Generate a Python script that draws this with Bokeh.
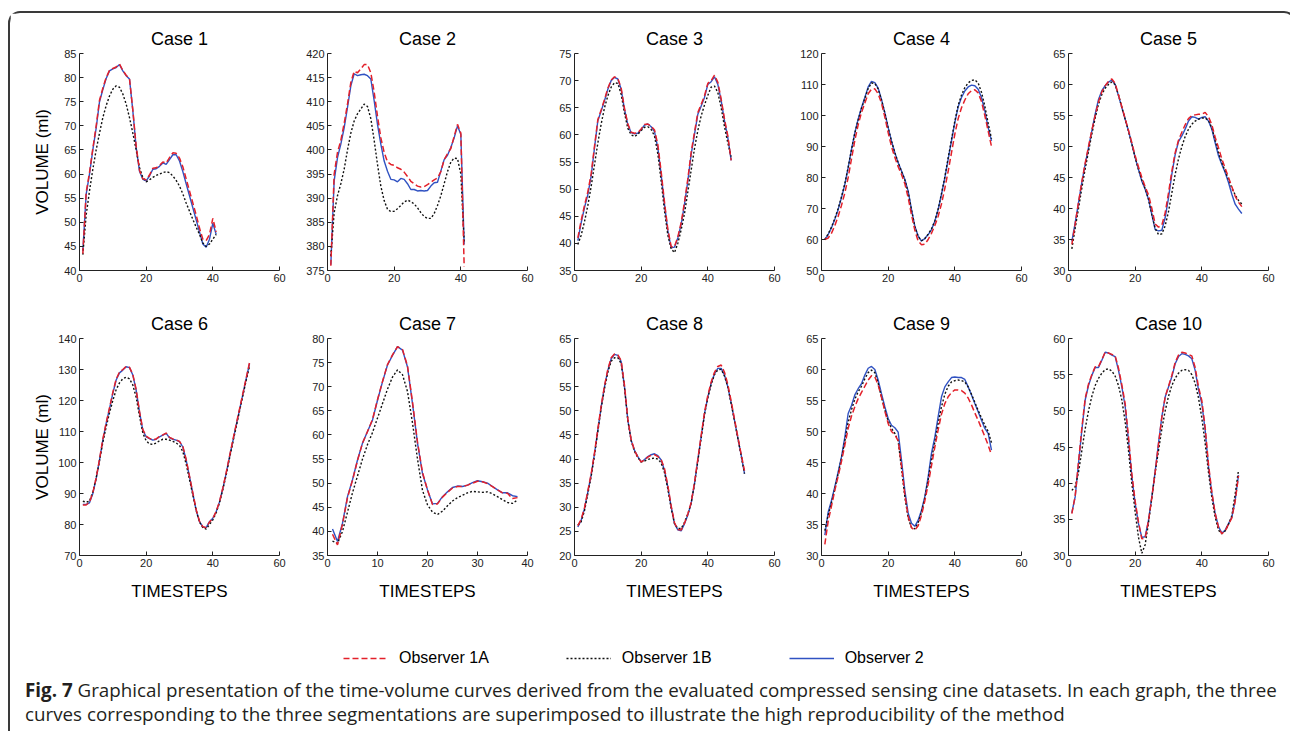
from bokeh.plotting import figure
from bokeh.layouts import row, column
from bokeh.models import Range1d, FixedTicker, Legend, LegendItem, Div
from bokeh.embed import file_html
from bokeh.resources import INLINE

# ---------------- data ----------------
case_titles = ["Case 1", "Case 2", "Case 3", "Case 4", "Case 5",
               "Case 6", "Case 7", "Case 8", "Case 9", "Case 10"]
series_names = ["Observer 1A", "Observer 1B", "Observer 2"]

y_limits = [(40, 85), (375, 420), (35, 75), (50, 120), (30, 65),
            (70, 140), (35, 80), (20, 65), (30, 65), (30, 60)]
y_steps = [5, 5, 5, 10, 5, 10, 5, 5, 5, 5]
x_limits = [60, 60, 60, 60, 60, 60, 40, 60, 60, 60]
x_steps = [20, 20, 20, 20, 20, 20, 10, 20, 20, 20]

case1_obs1a = [43.5, 56.2, 60.3, 65.3, 70.0, 75.3, 77.8, 80.0, 81.5, 81.9, 82.2, 82.8, 81.5, 80.5, 79.8, 73.3, 65.8, 60.8, 59.0, 58.8, 59.8, 61.2, 61.3, 61.8, 62.5, 62.3, 63.4, 64.4, 64.3, 63.3, 61.5, 59.0, 56.5, 54.0, 51.5, 48.8, 46.5, 46.2, 47.5, 50.8, 48.0]
case1_obs1b = [43.3, 51.5, 56.5, 61.0, 65.0, 68.5, 71.7, 74.2, 76.2, 77.6, 78.3, 78.0, 76.6, 74.5, 71.7, 68.5, 65.0, 61.3, 59.3, 58.4, 58.8, 59.3, 59.7, 60.0, 60.3, 60.5, 60.3, 59.6, 58.7, 57.5, 55.9, 54.0, 52.3, 50.6, 49.0, 47.5, 45.7, 45.0, 45.5, 46.5, 47.5]
case1_obs2 = [44.0, 55.8, 60.0, 65.0, 69.5, 75.0, 77.5, 79.8, 81.4, 81.8, 82.1, 82.7, 81.4, 80.4, 79.7, 73.1, 65.5, 60.6, 58.9, 58.6, 59.6, 61.0, 61.1, 61.6, 62.3, 62.0, 63.0, 64.0, 64.0, 62.7, 60.5, 58.0, 55.5, 53.0, 50.5, 48.0, 45.5, 44.8, 46.5, 49.8, 47.5]

case2_obs1a = [376.0, 395.0, 399.5, 402.0, 405.5, 409.5, 414.0, 416.3, 416.0, 416.8, 417.7, 417.7, 416.0, 412.0, 407.0, 402.5, 399.5, 397.5, 397.0, 396.8, 396.3, 396.0, 395.4, 394.5, 393.5, 393.0, 392.5, 392.3, 392.4, 392.8, 393.3, 393.8, 394.2, 395.5, 398.0, 399.2, 400.3, 402.8, 405.3, 403.5, 375.8]
case2_obs1b = [378.0, 387.0, 390.5, 393.0, 396.0, 400.0, 403.5, 406.0, 407.5, 408.5, 409.5, 409.0, 406.5, 402.0, 397.0, 392.5, 389.5, 387.7, 387.2, 387.3, 387.8, 388.5, 389.2, 389.6, 389.3, 388.8, 388.0, 387.0, 386.2, 385.8, 385.8, 386.8, 388.5, 390.5, 393.0, 395.5, 397.5, 398.3, 398.2, 395.0, 381.0]
case2_obs2 = [376.2, 393.6, 398.4, 401.2, 404.6, 408.8, 413.3, 415.8, 415.4, 415.6, 415.7, 415.4, 414.7, 410.2, 405.3, 401.2, 397.7, 395.6, 393.9, 393.8, 393.4, 394.1, 393.9, 393.0, 391.8, 391.8, 391.5, 391.6, 391.5, 391.6, 392.5, 393.2, 393.3, 395.6, 398.0, 398.9, 400.5, 402.5, 405.0, 403.2, 380.4]

case3_obs1a = [41.0, 44.2, 47.0, 49.5, 52.8, 57.9, 62.8, 64.6, 66.5, 68.6, 70.1, 70.7, 70.4, 68.6, 64.9, 62.0, 60.5, 60.3, 60.4, 61.1, 61.9, 62.0, 61.6, 60.9, 58.2, 53.2, 47.6, 42.6, 39.4, 39.4, 41.2, 43.8, 47.6, 51.9, 56.8, 60.5, 64.1, 65.6, 67.2, 69.5, 70.0, 71.0, 69.7, 66.6, 62.9, 59.8, 55.3]
case3_obs1b = [39.8, 41.5, 44.0, 47.0, 50.5, 54.5, 58.5, 62.0, 65.0, 67.2, 68.8, 69.6, 69.5, 67.5, 64.0, 61.2, 60.0, 59.7, 60.1, 60.8, 61.4, 61.5, 61.0, 59.8, 56.5, 51.5, 46.0, 41.5, 39.0, 38.3, 40.0, 42.5, 45.5, 49.5, 53.5, 57.5, 60.8, 63.5, 65.5, 67.3, 68.8, 69.0, 67.8, 65.0, 61.5, 58.5, 56.0]
case3_obs2 = [40.5, 43.8, 46.6, 49.0, 52.4, 57.6, 62.6, 64.4, 66.3, 68.4, 70.0, 70.6, 70.3, 68.4, 64.7, 61.9, 60.4, 60.2, 60.3, 61.0, 61.8, 62.0, 61.5, 60.6, 57.6, 52.7, 47.2, 42.3, 39.2, 39.3, 41.0, 43.5, 47.2, 51.5, 56.4, 60.1, 63.8, 65.3, 66.9, 69.3, 69.8, 70.7, 69.3, 66.3, 62.6, 59.5, 55.3]

case4_obs1a = [60.0, 60.5, 62.0, 64.5, 67.5, 71.0, 75.0, 80.0, 86.0, 92.0, 97.0, 101.0, 104.0, 107.0, 108.5, 108.6, 107.0, 104.0, 99.5, 94.5, 90.0, 86.5, 83.5, 81.0, 78.0, 73.5, 68.0, 63.0, 59.5, 58.3, 58.5, 60.0, 62.0, 64.5, 67.5, 71.5, 76.5, 82.0, 88.0, 94.0, 99.0, 102.5, 105.0, 107.0, 108.0, 108.3, 107.3, 104.5, 100.0, 95.0, 90.0]
case4_obs1b = [60.0, 61.8, 64.0, 66.8, 70.0, 73.8, 78.0, 83.3, 89.0, 94.3, 98.6, 102.3, 105.5, 108.7, 110.5, 110.3, 108.6, 105.0, 100.8, 96.0, 91.7, 88.0, 84.8, 82.0, 79.2, 75.3, 69.5, 64.2, 61.0, 59.6, 60.3, 61.7, 63.4, 66.0, 69.8, 74.8, 80.2, 86.3, 92.3, 98.2, 103.3, 106.6, 109.0, 110.5, 111.3, 111.5, 110.5, 107.5, 103.0, 97.5, 92.5]
case4_obs2 = [60.0, 61.6, 63.8, 66.5, 69.7, 73.5, 77.8, 83.2, 89.1, 94.5, 98.8, 102.6, 105.8, 109.2, 111.0, 110.6, 108.8, 105.2, 100.9, 96.1, 91.8, 88.0, 84.8, 82.1, 79.4, 75.6, 69.7, 64.3, 61.1, 59.5, 60.3, 61.6, 63.2, 65.9, 69.7, 74.6, 79.9, 85.9, 91.8, 97.7, 102.8, 105.8, 107.9, 109.2, 109.8, 109.6, 108.5, 105.8, 101.5, 96.1, 91.8]

case5_obs1a = [34.2, 37.5, 41.0, 44.3, 47.3, 50.0, 52.6, 55.0, 57.2, 58.8, 59.8, 60.5, 60.9, 60.2, 58.3, 56.4, 54.5, 52.6, 50.6, 48.5, 46.7, 45.0, 43.5, 42.2, 40.0, 37.5, 37.0, 37.3, 39.3, 42.5, 46.0, 49.0, 51.0, 52.3, 53.5, 54.5, 55.0, 55.1, 55.2, 55.2, 55.5, 54.8, 53.5, 51.5, 49.8, 48.0, 46.5, 45.0, 43.5, 42.0, 41.0, 40.3]
case5_obs1b = [33.5, 36.8, 40.0, 43.3, 46.4, 49.2, 52.0, 54.6, 56.8, 58.4, 59.4, 60.0, 60.4, 60.0, 58.3, 56.3, 54.4, 52.5, 50.4, 48.2, 46.3, 44.6, 43.2, 41.5, 39.0, 36.8, 35.8, 35.9, 37.2, 39.5, 42.5, 45.5, 48.0, 50.0, 51.6, 52.8, 53.6, 54.1, 54.4, 54.6, 54.6, 54.2, 53.0, 51.0, 49.0, 47.4, 46.0, 44.7, 43.3, 42.2, 41.3, 40.7]
case5_obs2 = [34.7, 37.7, 40.9, 44.2, 47.1, 49.8, 52.5, 55.2, 57.6, 59.0, 59.8, 60.4, 60.7, 60.0, 58.2, 56.3, 54.4, 52.5, 50.4, 48.2, 46.3, 44.4, 43.1, 41.5, 39.0, 36.6, 36.4, 36.5, 38.5, 41.7, 45.5, 48.7, 50.8, 51.7, 52.8, 54.1, 54.8, 54.7, 54.4, 54.7, 54.8, 54.1, 52.8, 50.6, 48.5, 47.1, 45.8, 44.2, 42.3, 40.7, 39.9, 39.2]

case6_obs1a = [86.3, 86.3, 87.2, 90.3, 95.0, 101.0, 107.5, 112.8, 117.6, 122.6, 126.9, 129.2, 130.0, 131.0, 130.7, 128.4, 123.5, 116.5, 110.6, 108.5, 107.8, 107.3, 107.6, 108.4, 108.9, 109.5, 108.1, 107.6, 107.3, 106.8, 105.2, 101.0, 95.6, 90.2, 84.8, 81.0, 79.3, 79.0, 80.8, 82.0, 84.2, 87.4, 91.8, 96.7, 102.0, 107.2, 112.3, 117.2, 122.2, 127.2, 132.2]
case6_obs1b = [87.5, 87.2, 87.5, 90.5, 95.0, 100.5, 106.5, 111.5, 116.0, 120.0, 123.5, 125.7, 127.0, 127.5, 127.0, 125.0, 121.0, 115.0, 109.5, 107.0, 106.0, 105.8, 106.3, 107.0, 107.5, 107.5, 107.2, 106.8, 106.3, 105.5, 103.5, 99.5, 94.5, 89.5, 84.5, 80.8, 79.0, 78.5, 80.0, 81.5, 83.8, 87.0, 91.3, 96.0, 101.3, 106.5, 111.5, 116.5, 121.5, 126.5, 131.0]
case6_obs2 = [86.5, 86.5, 87.0, 90.0, 94.8, 100.8, 107.2, 112.6, 117.4, 122.3, 126.6, 128.9, 129.8, 130.9, 130.6, 128.2, 123.3, 116.3, 110.4, 108.3, 107.7, 107.2, 107.5, 108.3, 108.8, 109.4, 108.0, 107.5, 107.2, 106.7, 105.0, 100.8, 95.4, 90.0, 84.6, 80.9, 79.2, 79.0, 80.9, 82.0, 84.1, 87.3, 91.6, 96.5, 101.8, 106.8, 112.0, 117.0, 122.0, 127.0, 131.9]

case7_obs1a = [39.4, 37.2, 41.5, 47.0, 50.6, 54.7, 58.3, 60.7, 63.2, 67.3, 71.1, 74.6, 76.6, 78.3, 77.7, 74.3, 66.8, 58.5, 52.2, 48.6, 45.6, 45.7, 47.1, 48.1, 49.0, 49.3, 49.3, 49.6, 50.0, 50.4, 50.3, 49.9, 49.3, 48.6, 48.0, 47.9, 46.8, 47.0]
case7_obs1b = [38.0, 37.5, 40.0, 44.0, 48.0, 51.5, 55.0, 58.0, 60.5, 63.5, 66.5, 69.5, 72.0, 73.5, 72.5, 69.0, 62.5, 55.0, 48.5, 45.5, 44.0, 43.5, 44.2, 45.3, 46.3, 47.0, 47.5, 48.0, 48.3, 48.2, 48.1, 48.2, 47.8, 47.2, 46.6, 46.0, 45.8, 46.5]
case7_obs2 = [40.5, 37.9, 41.7, 47.2, 50.7, 54.8, 58.3, 60.7, 63.1, 67.2, 71.0, 74.5, 76.5, 78.3, 77.6, 74.1, 66.5, 58.3, 52.0, 48.6, 45.7, 45.8, 47.2, 48.2, 49.1, 49.4, 49.3, 49.6, 50.1, 50.5, 50.3, 50.0, 49.3, 48.6, 48.0, 48.0, 47.4, 47.2]

case8_obs1a = [26.2, 27.5, 29.9, 33.4, 36.9, 41.3, 46.2, 51.0, 55.2, 58.6, 61.0, 61.8, 61.6, 60.4, 55.3, 48.3, 44.0, 41.8, 40.4, 39.4, 39.8, 40.4, 40.8, 40.9, 40.5, 39.9, 38.0, 34.5, 30.3, 26.8, 25.4, 25.3, 26.7, 28.6, 31.0, 35.1, 40.0, 44.9, 49.7, 53.2, 56.0, 58.0, 59.2, 59.5, 58.0, 55.5, 52.0, 48.3, 44.6, 41.0, 37.6]
case8_obs1b = [26.3, 27.0, 29.3, 32.8, 36.4, 40.8, 45.7, 50.5, 54.6, 58.0, 60.3, 61.0, 61.0, 59.8, 54.8, 48.0, 43.8, 41.6, 40.3, 39.4, 39.6, 39.9, 40.1, 40.2, 40.0, 39.2, 37.2, 33.8, 29.8, 26.6, 25.6, 25.6, 26.9, 28.6, 30.9, 34.8, 39.6, 44.4, 49.2, 52.7, 55.5, 57.5, 58.5, 58.6, 57.2, 54.9, 51.5, 47.9, 44.3, 40.7, 37.0]
case8_obs2 = [25.9, 27.3, 29.7, 33.2, 36.7, 41.1, 46.0, 50.8, 55.0, 58.4, 60.8, 61.7, 61.5, 60.2, 55.0, 48.1, 43.9, 41.8, 40.5, 39.4, 39.9, 40.5, 40.9, 41.1, 40.7, 39.8, 37.7, 34.2, 30.1, 26.6, 25.3, 25.1, 26.6, 28.4, 30.8, 34.9, 39.8, 44.6, 49.4, 52.9, 55.7, 57.7, 58.8, 58.8, 57.4, 55.0, 51.6, 48.0, 44.4, 40.8, 37.0]

case9_obs1a = [31.8, 35.5, 38.0, 40.5, 42.8, 45.2, 47.8, 50.5, 52.5, 54.0, 55.3, 56.3, 57.3, 58.3, 59.0, 58.8, 57.5, 55.5, 53.3, 51.3, 50.0, 49.5, 48.5, 44.5, 39.8, 36.3, 34.5, 34.1, 34.8, 36.5, 38.8, 41.5, 44.5, 47.5, 50.3, 52.8, 54.5, 55.6, 56.3, 56.7, 56.7, 56.6, 56.2, 55.4, 54.3, 53.0, 51.8, 50.5, 49.2, 47.8, 46.2]
case9_obs1b = [34.0, 36.5, 38.5, 40.8, 43.2, 45.7, 48.5, 51.5, 53.5, 55.2, 56.4, 57.3, 58.5, 59.5, 59.9, 59.5, 57.8, 55.5, 53.5, 51.7, 50.5, 49.7, 48.5, 44.0, 39.5, 36.0, 34.5, 34.3, 35.3, 37.0, 39.3, 42.2, 45.5, 48.3, 51.3, 54.0, 56.0, 57.3, 58.0, 58.2, 58.3, 58.2, 58.0, 57.2, 56.0, 54.7, 53.4, 52.2, 51.0, 50.0, 48.2]
case9_obs2 = [33.3, 37.0, 38.9, 41.1, 43.5, 45.9, 49.1, 52.9, 54.2, 55.9, 56.9, 57.7, 59.1, 60.2, 60.5, 60.0, 58.3, 56.1, 54.0, 52.1, 51.0, 50.6, 49.9, 45.4, 40.5, 36.8, 35.2, 34.7, 35.7, 37.3, 39.5, 42.7, 46.5, 49.1, 52.4, 55.6, 57.2, 58.0, 58.7, 58.8, 58.7, 58.7, 58.4, 57.2, 55.9, 54.5, 53.2, 51.8, 50.5, 49.7, 47.0]

case10_obs1a = [35.8, 38.2, 42.9, 47.6, 51.7, 53.7, 55.0, 56.1, 56.1, 57.1, 58.1, 58.0, 57.8, 57.6, 55.9, 53.6, 51.0, 46.4, 41.3, 37.5, 34.6, 32.3, 32.4, 34.8, 38.0, 41.5, 45.4, 49.1, 51.9, 53.4, 54.9, 56.7, 57.7, 58.1, 58.0, 57.8, 57.6, 56.0, 53.3, 51.4, 47.7, 42.6, 38.8, 35.8, 33.9, 33.0, 33.4, 34.3, 35.2, 37.5, 41.0]
case10_obs1b = [39.0, 39.5, 41.5, 44.5, 47.5, 50.0, 52.0, 53.5, 54.5, 55.2, 55.7, 55.8, 55.5, 54.8, 53.5, 51.5, 48.5, 44.5, 40.0, 36.0, 32.5, 30.3, 31.5, 34.5, 38.0, 41.5, 44.5, 47.5, 50.0, 52.0, 53.5, 54.5, 55.2, 55.6, 55.7, 55.6, 55.0, 53.8, 51.8, 49.0, 45.5, 41.5, 38.0, 35.3, 33.5, 33.0, 33.4, 34.3, 35.5, 38.5, 41.8]
case10_obs2 = [35.9, 38.1, 42.7, 47.3, 51.5, 53.5, 54.9, 56.0, 56.0, 57.0, 58.1, 58.0, 57.7, 57.5, 55.6, 53.3, 50.6, 45.9, 40.9, 37.2, 34.4, 32.5, 32.6, 34.9, 38.1, 41.6, 45.5, 49.2, 51.9, 53.3, 54.7, 56.5, 57.5, 57.9, 57.8, 57.6, 57.2, 55.6, 52.9, 51.0, 47.3, 42.3, 38.6, 35.8, 34.0, 33.1, 33.5, 34.4, 35.3, 37.6, 41.1]

obs1a_all = [case1_obs1a, case2_obs1a, case3_obs1a, case4_obs1a, case5_obs1a,
             case6_obs1a, case7_obs1a, case8_obs1a, case9_obs1a, case10_obs1a]
obs1b_all = [case1_obs1b, case2_obs1b, case3_obs1b, case4_obs1b, case5_obs1b,
             case6_obs1b, case7_obs1b, case8_obs1b, case9_obs1b, case10_obs1b]
obs2_all = [case1_obs2, case2_obs2, case3_obs2, case4_obs2, case5_obs2,
            case6_obs2, case7_obs2, case8_obs2, case9_obs2, case10_obs2]

caption_bold = "Fig. 7"
caption_line1 = ("Graphical presentation of the time-volume curves derived from the evaluated "
                 "compressed sensing cine datasets. In each graph, the three")
caption_line2 = ("curves corresponding to the three segmentations are superimposed to illustrate "
                 "the high reproducibility of the method")

# ---------------- styling ----------------
RED = "#e3202a"
BLUE = "#3052c2"
BLACK = "#111111"
AX = "#222222"
FONT = "Liberation Sans"


def make_case(k):
    col, rw = k % 5, k // 5
    lo, hi = y_limits[k]
    xmax = x_limits[k]
    p = figure(frame_width=200, frame_height=217,
               x_range=Range1d(0, xmax), y_range=Range1d(lo, hi),
               min_border_left=[69, 38, 37, 37, 37][col],
               min_border_right=[10, 10, 10, 10, 16][col],
               min_border_top=40 if rw == 0 else 38,
               min_border_bottom=30 if rw == 0 else 50,
               output_backend="svg", toolbar_location=None,
               title=case_titles[k])
    p.title.text_font = FONT
    p.title.text_font_size = "18px"
    p.title.text_font_style = "normal"
    p.title.text_color = "#000000"
    p.title.align = "center"
    p.title.standoff = 10
    p.outline_line_color = None
    p.grid.grid_line_color = None
    p.background_fill_color = "white"
    p.border_fill_color = "white"

    p.xaxis.ticker = FixedTicker(ticks=list(range(0, xmax + 1, x_steps[k])))
    p.yaxis.ticker = FixedTicker(ticks=list(range(lo, hi + 1, y_steps[k])))
    p.axis.major_tick_in = 4
    p.axis.major_tick_out = 0
    p.axis.minor_tick_line_color = None
    p.axis.axis_line_color = AX
    p.axis.major_tick_line_color = AX
    p.axis.major_label_text_font = FONT
    p.axis.major_label_text_font_size = "11px"
    p.axis.major_label_text_color = AX
    p.axis.major_label_standoff = 3

    if col == 0:
        p.yaxis.axis_label = "VOLUME (ml)"
        p.yaxis.axis_label_text_font = FONT
        p.yaxis.axis_label_text_font_size = "17px"
        p.yaxis.axis_label_text_font_style = "normal"
        p.yaxis.axis_label_text_color = "#000000"
        p.yaxis.axis_label_standoff = 9 if rw == 0 else 3
    if rw == 1:
        p.xaxis.axis_label = "TIMESTEPS"
        p.xaxis.axis_label_text_font = FONT
        p.xaxis.axis_label_text_font_size = "17px"
        p.xaxis.axis_label_text_font_style = "normal"
        p.xaxis.axis_label_text_color = "#000000"
        p.xaxis.axis_label_standoff = 12

    x = list(range(1, len(obs2_all[k]) + 1))
    p.line(x, obs2_all[k], line_color=BLUE, line_width=1.4)
    p.line(x, obs1b_all[k], line_color=BLACK, line_width=1.4, line_dash="2 2")
    p.line(x, obs1a_all[k], line_color=RED, line_width=1.5, line_dash="6 3")
    return p


figs = [make_case(k) for k in range(10)]
row1 = row(*figs[:5])
row2 = row(*figs[5:])

# ---------------- legend strip ----------------
nan = float("nan")
lf = figure(width=1274, height=68, x_range=Range1d(0, 1), y_range=Range1d(0, 1),
            x_axis_location=None, y_axis_location=None, min_border=0,
            output_backend="svg", toolbar_location=None)
lf.outline_line_color = None
lf.grid.grid_line_color = None
r_a = lf.line([nan], [nan], line_color=RED, line_width=1.5, line_dash="6 3")
r_b = lf.line([nan], [nan], line_color=BLACK, line_width=1.4, line_dash="2 2")
r_c = lf.line([nan], [nan], line_color=BLUE, line_width=1.6)
leg = Legend(items=[LegendItem(label=series_names[0], renderers=[r_a]),
                    LegendItem(label=series_names[1], renderers=[r_b]),
                    LegendItem(label=series_names[2], renderers=[r_c])],
             orientation="horizontal", location=(333, 5),
             glyph_width=45, glyph_height=20, label_standoff=11, spacing=77,
             padding=0, margin=0, border_line_color=None,
             background_fill_alpha=0,
             label_text_font=FONT, label_text_font_size="16px",
             label_text_color="#000000")
lf.add_layout(leg)

caption = Div(
    text=(f"<b>{caption_bold}</b> {caption_line1}<br>{caption_line2}"),
    width=1274, height=57,
    styles={"font-family": "'Open Sans', sans-serif", "font-size": "18.8px",
            "line-height": "24px", "color": "#231f20",
            "padding-left": "10px", "white-space": "nowrap"})

layout = column(row1, row2, lf, caption,
                styles={"border": "2px solid #3a3a3a", "border-bottom": "none",
                        "border-radius": "12px 12px 0 0",
                        "margin-top": "11px", "margin-left": "8px",
                        "background-color": "white"})

with open("out.html", "w") as f:
    f.write(file_html(layout, INLINE))
